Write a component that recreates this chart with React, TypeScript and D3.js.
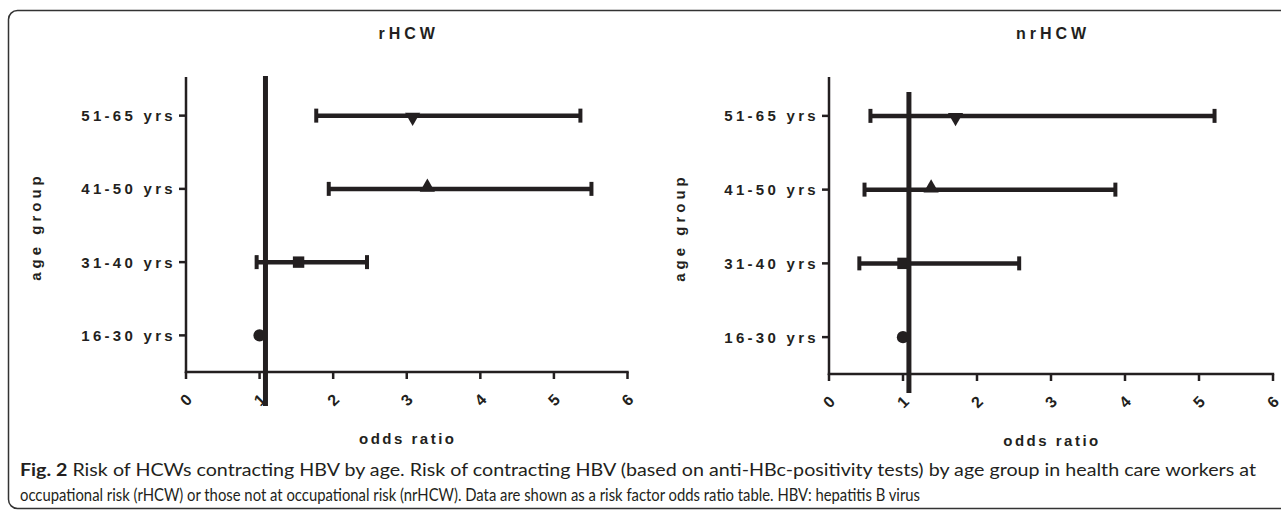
import { useEffect, useRef } from "react";
import * as d3 from "d3";

// ─── Data ─────────────────────────────────────────────────────────────────────

const AGE_GROUPS = ["51-65 yrs", "41-50 yrs", "31-40 yrs", "16-30 yrs"];
const MARKERS = ["down", "up", "square", "circle"];

// rHCW — odds ratio with 95% CI
const R_OR = [3.08, 3.28, 1.53, 1.0];
const R_LO = [1.77, 1.94, 0.96, 1.0];
const R_HI = [5.36, 5.51, 2.46, 1.0];

// nrHCW
const NR_OR = [1.71, 1.38, 1.0, 1.0];
const NR_LO = [0.56, 0.48, 0.41, 1.0];
const NR_HI = [5.21, 3.87, 2.57, 1.0];

const X_TICKS = [0, 1, 2, 3, 4, 5, 6];
const REF_VALUE = 1.08;

const CAPTION_1 =
  " Risk of HCWs contracting HBV by age. Risk of contracting HBV (based on anti-HBc-positivity tests) by age group in health care workers at";
const CAPTION_2 =
  "occupational risk (rHCW) or those not at occupational risk (nrHCW). Data are shown as a risk factor odds ratio table. HBV: hepatitis B virus";

// ─── Style ────────────────────────────────────────────────────────────────────

const INK = "#231f20";
const FONT = "'Liberation Sans', Arial, sans-serif";
const CAP_FONT = "Lato, 'Open Sans', sans-serif";
const W = 1281,
  H = 513;

const PANELS = [
  {
    title: "rHCW",
    or: R_OR,
    lo: R_LO,
    hi: R_HI,
    x0: 186,
    x1: 627.5,
    yTop: 77,
    yBottom: 372,
    refTop: 76,
    refBottom: 406,
    labelX: 36,
  },
  {
    title: "nrHCW",
    or: NR_OR,
    lo: NR_LO,
    hi: NR_HI,
    x0: 829,
    x1: 1273,
    yTop: 77,
    yBottom: 374,
    refTop: 92,
    refBottom: 393,
    labelX: 680,
  },
];

export default function App() {
  const svgRef = useRef<SVGSVGElement>(null);

  useEffect(() => {
    if (!svgRef.current) return;
    const svg = d3.select(svgRef.current);
    svg.selectAll("*").remove();

    // frame
    svg
      .append("rect")
      .attr("x", 8.5)
      .attr("y", 10.5)
      .attr("width", W + 40)
      .attr("height", 498)
      .attr("rx", 9)
      .attr("fill", "none")
      .attr("stroke", "#333")
      .attr("stroke-width", 1.5);

    PANELS.forEach((p) => {
      const g = svg.append("g");
      const x = d3.scaleLinear().domain([0, 6]).range([p.x0, p.x1]);
      const y = d3
        .scalePoint<string>()
        .domain(AGE_GROUPS)
        .range([p.yTop + 2, p.yBottom])
        .padding(0.5);
      const cx = (p.x0 + p.x1) / 2;

      // title
      g.append("text")
        .attr("x", cx + 2)
        .attr("y", 39)
        .attr("text-anchor", "middle")
        .attr("font-family", FONT)
        .attr("font-weight", 700)
        .attr("font-size", 16)
        .attr("letter-spacing", 4)
        .attr("fill", INK)
        .text(p.title);

      // y axis
      g.append("line")
        .attr("x1", p.x0)
        .attr("x2", p.x0)
        .attr("y1", p.yTop)
        .attr("y2", p.yBottom + 1)
        .attr("stroke", INK)
        .attr("stroke-width", 2.5);

      AGE_GROUPS.forEach((a) => {
        g.append("line")
          .attr("x1", p.x0 - 7)
          .attr("x2", p.x0)
          .attr("y1", y(a)!)
          .attr("y2", y(a)!)
          .attr("stroke", INK)
          .attr("stroke-width", 2.5);
        g.append("text")
          .attr("x", p.x0 - 10)
          .attr("y", y(a)! + 5.5)
          .attr("text-anchor", "end")
          .attr("font-family", FONT)
          .attr("font-weight", 700)
          .attr("font-size", 15)
          .attr("letter-spacing", 3.3)
          .attr("fill", INK)
          .text(a);
      });

      // x axis
      g.append("line")
        .attr("x1", p.x0 - 1.2)
        .attr("x2", p.x1 + 1.2)
        .attr("y1", p.yBottom)
        .attr("y2", p.yBottom)
        .attr("stroke", INK)
        .attr("stroke-width", 2.5);

      X_TICKS.forEach((t) => {
        g.append("line")
          .attr("x1", x(t))
          .attr("x2", x(t))
          .attr("y1", p.yBottom)
          .attr("y2", p.yBottom + 7)
          .attr("stroke", INK)
          .attr("stroke-width", 2.5);
        g.append("text")
          .attr(
            "transform",
            `translate(${x(t)},${p.yBottom + 28}) rotate(-45)`,
          )
          .attr("text-anchor", "middle")
          .attr("dy", "0.35em")
          .attr("font-family", FONT)
          .attr("font-weight", 700)
          .attr("font-size", 16)
          .attr("fill", INK)
          .text(t);
      });

      // axis titles
      g.append("text")
        .attr("x", cx + 1)
        .attr("y", p.yBottom + 72)
        .attr("text-anchor", "middle")
        .attr("font-family", FONT)
        .attr("font-weight", 700)
        .attr("font-size", 15)
        .attr("letter-spacing", 2.5)
        .attr("fill", INK)
        .text("odds ratio");

      g.append("text")
        .attr(
          "transform",
          `translate(${p.labelX},${(p.yTop + p.yBottom) / 2 + 2}) rotate(-90)`,
        )
        .attr("text-anchor", "middle")
        .attr("dy", "0.35em")
        .attr("font-family", FONT)
        .attr("font-weight", 700)
        .attr("font-size", 15)
        .attr("letter-spacing", 4)
        .attr("fill", INK)
        .text("age group");

      // error bars
      AGE_GROUPS.forEach((a, i) => {
        const yy = y(a)!;
        if (p.hi[i] === p.lo[i]) return;
        g.append("line")
          .attr("x1", x(p.lo[i]))
          .attr("x2", x(p.hi[i]))
          .attr("y1", yy)
          .attr("y2", yy)
          .attr("stroke", INK)
          .attr("stroke-width", 4.5);
        [p.lo[i], p.hi[i]].forEach((v) => {
          g.append("line")
            .attr("x1", x(v))
            .attr("x2", x(v))
            .attr("y1", yy - 7)
            .attr("y2", yy + 7)
            .attr("stroke", INK)
            .attr("stroke-width", 4);
        });
      });

      // markers
      AGE_GROUPS.forEach((a, i) => {
        const m = MARKERS[i];
        const type =
          m === "circle"
            ? d3.symbolCircle
            : m === "square"
              ? d3.symbolSquare
              : d3.symbolTriangle;
        const size = m === "circle" ? 120 : m === "square" ? 130 : 100;
        g.append("path")
          .attr("d", d3.symbol().type(type).size(size)()!)
          .attr(
            "transform",
            `translate(${x(p.or[i])},${y(a)! + (m === "down" ? 1.5 : m === "up" ? -1.5 : 0)}) rotate(${m === "down" ? 180 : 0})`,
          )
          .attr("fill", INK);
      });

      // reference line
      g.append("line")
        .attr("x1", x(REF_VALUE))
        .attr("x2", x(REF_VALUE))
        .attr("y1", p.refTop)
        .attr("y2", p.refBottom)
        .attr("stroke", INK)
        .attr("stroke-width", 5);
    });

    // caption
    const cap = svg
      .append("text")
      .attr("x", 20)
      .attr("y", 476)
      .attr("font-family", CAP_FONT)
      .attr("font-size", 16.5)
      .attr("fill", INK)
      .attr("textLength", 1236)
      .attr("lengthAdjust", "spacingAndGlyphs");
    cap.append("tspan").attr("font-weight", 700).text("Fig. 2");
    cap.append("tspan").text(CAPTION_1);

    svg
      .append("text")
      .attr("x", 20)
      .attr("y", 501)
      .attr("font-family", CAP_FONT)
      .attr("font-size", 16.5)
      .attr("fill", INK)
      .attr("textLength", 900)
      .attr("lengthAdjust", "spacingAndGlyphs")
      .text(CAPTION_2);
  }, []);

  return (
    <div style={{ position: "absolute", left: 0, top: 0, background: "#fff" }}>
      <svg
        ref={svgRef}
        width={W}
        height={H}
        viewBox={`0 0 ${W} ${H}`}
        style={{ display: "block" }}
      />
    </div>
  );
}
